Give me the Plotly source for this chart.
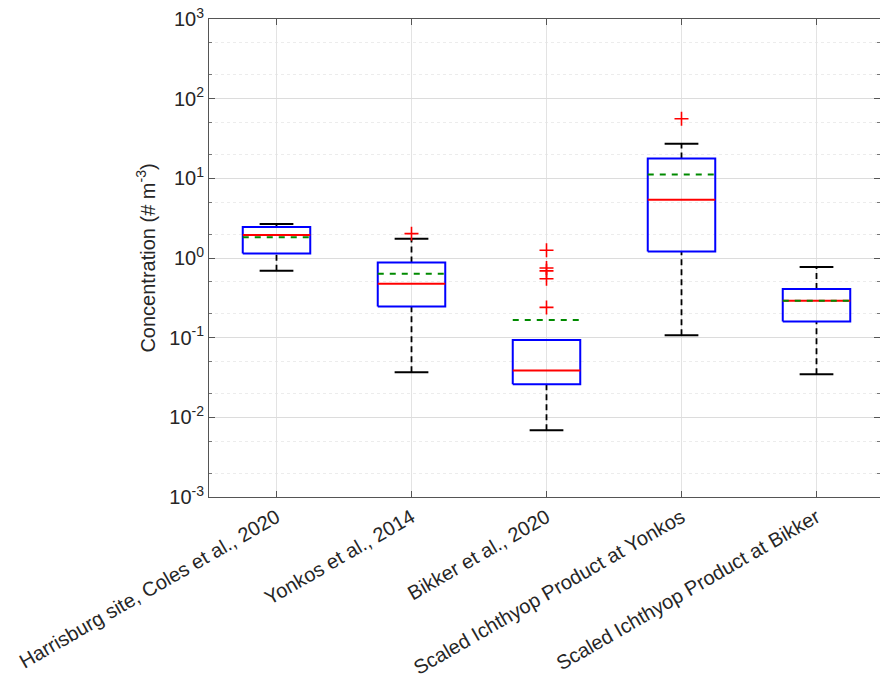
import plotly.graph_objects as go

categories = ["Harrisburg site, Coles et al., 2020", "Yonkos et al., 2014", "Bikker et al., 2020",
              "Scaled Ichthyop Product at Yonkos", "Scaled Ichthyop Product at Bikker"]
q1 = [1.14, 0.246, 0.026, 1.21, 0.16]
median = [1.95, 0.475, 0.0386, 5.37, 0.29]
q3 = [2.45, 0.88, 0.0938, 17.7, 0.407]
mean = [1.82, 0.635, 0.167, 11.2, 0.29]
lower_whisker = [0.69, 0.0368, 0.00686, 0.107, 0.0347]
upper_whisker = [2.68, 1.75, 0.0938, 27.2, 0.77]
outliers = [[], [2.02], [1.25, 0.75, 0.69, 0.55, 0.24], [56.0], []]

ytick_vals = [1e-3, 1e-2, 1e-1, 1, 10, 100, 1000]
ytick_text = ["10<sup>-3</sup>", "10<sup>-2</sup>", "10<sup>-1</sup>", "10<sup>0</sup>",
              "10<sup>1</sup>", "10<sup>2</sup>", "10<sup>3</sup>"]

BW = 0.25   # box half width
CW = 0.125  # cap half width

fig = go.Figure()

def add_line(xs, ys, color, dash="solid", width=2):
    fig.add_trace(go.Scatter(x=xs, y=ys, mode="lines", showlegend=False, hoverinfo="skip",
                             line=dict(color=color, dash=dash, width=width)))

for i in range(len(categories)):
    p = i + 1
    add_line([p, p], [q3[i], upper_whisker[i]], "black", dash="6px,4px", width=1.8)
    add_line([p, p], [lower_whisker[i], q1[i]], "black", dash="6px,4px", width=1.8)
    add_line([p - CW, p + CW], [upper_whisker[i], upper_whisker[i]], "black", width=2)
    add_line([p - CW, p + CW], [lower_whisker[i], lower_whisker[i]], "black", width=2)
    add_line([p - BW, p + BW, p + BW, p - BW, p - BW], [q1[i], q1[i], q3[i], q3[i], q1[i]], "#0000ff", width=2)
    add_line([p - BW, p + BW], [median[i], median[i]], "#ff0000", width=2)
    add_line([p - BW, p + BW], [mean[i], mean[i]], "#008a00", dash="6px,6px", width=2)
    if outliers[i]:
        fig.add_trace(go.Scatter(x=[p] * len(outliers[i]), y=outliers[i], mode="markers",
                                 showlegend=False, hoverinfo="skip",
                                 marker=dict(symbol="cross-thin", size=10,
                                             line=dict(color="#ff0000", width=1.6))))

fig.update_layout(
    width=880, height=684,
    margin=dict(l=209, r=0, t=19, b=187),
    paper_bgcolor="white", plot_bgcolor="white",
    font=dict(family="Liberation Sans, Arial, sans-serif", size=20, color="#262626"),
)

fig.update_xaxes(
    range=[0.5, 5.5 - 4 / 135], tickmode="array", tickvals=[1, 2, 3, 4, 5], ticktext=categories,
    tickangle=-30, ticks="inside", ticklen=6, tickcolor="#555",
    showline=True, linecolor="#555", linewidth=1, mirror="ticks",
    showgrid=True, gridcolor="#e3e3e3", gridwidth=1, zeroline=False, automargin=False,
    tickfont=dict(size=20, color="#262626"), ticklabeloverflow="allow",
)
fig.update_yaxes(
    type="log", range=[-3, 3], tickmode="array", tickvals=ytick_vals, ticktext=ytick_text,
    ticks="inside", ticklen=6, tickcolor="#555",
    showline=True, linecolor="#555", linewidth=1, mirror="ticks",
    showgrid=True, gridcolor="#dcdcdc", gridwidth=1, zeroline=False, automargin=False,
    tickfont=dict(size=20, color="#262626"), ticklabeloverflow="allow",
    minor=dict(ticks="inside", ticklen=3, tickcolor="#777", showgrid=True,
               gridcolor="#ececec", griddash="dot", gridwidth=1),
    title=dict(text="Concentration (# m<sup>-3</sup>)", font=dict(size=20, color="#262626"), standoff=8),
)

fig.write_html("out.html", config={"displayModeBar": False},
               post_script="document.body.style.margin='0';")
